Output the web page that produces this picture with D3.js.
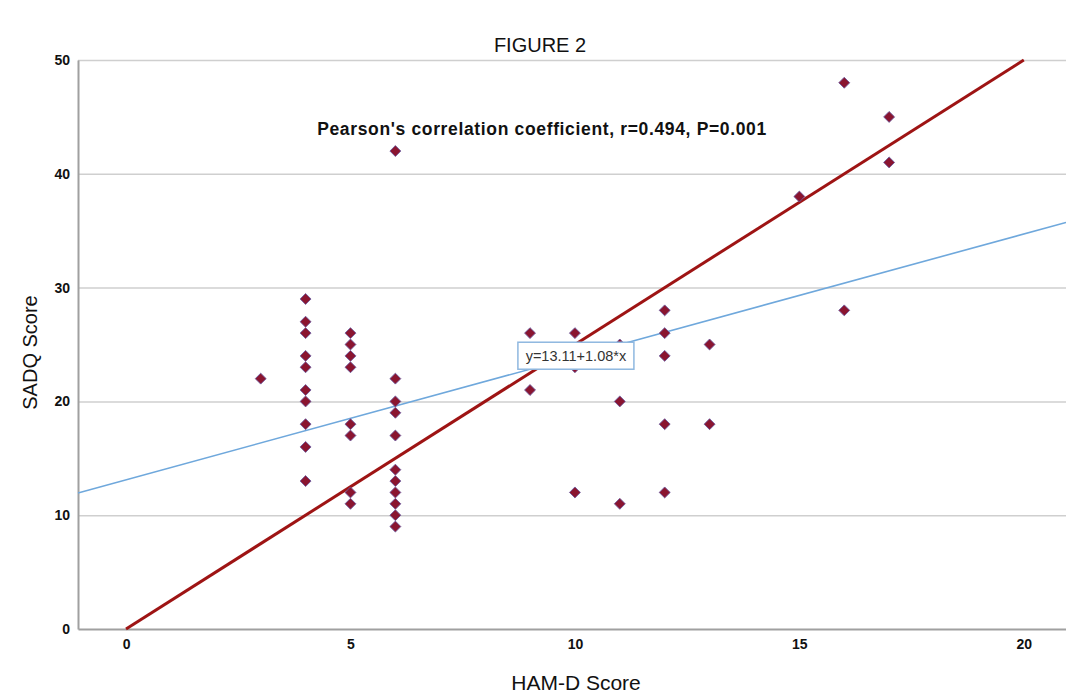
<!DOCTYPE html>
<html>
<head>
<meta charset="utf-8">
<script src="https://cdn.jsdelivr.net/npm/d3@7"></script>
<style>
  body { margin: 0; background: #fff; }
</style>
</head>
<body>
<svg></svg>
<script>
const width = 1066;
const height = 695;
const margin = { top: 60, right: 0, bottom: 66, left: 78 };

// HAM-D score (x) and SADQ score (y) for each patient
const hamd = [3,
  4, 4, 4, 4, 4, 4, 4, 4, 4, 4,
  5, 5, 5, 5, 5, 5, 5, 5,
  6, 6, 6, 6, 6, 6, 6, 6, 6, 6, 6,
  9, 9,
  10, 10, 10,
  11, 11, 11,
  12, 12, 12, 12, 12,
  13, 13,
  15,
  16, 16,
  17, 17];
const sadq = [22,
  29, 27, 26, 24, 23, 21, 20, 18, 16, 13,
  26, 25, 24, 23, 18, 17, 12, 11,
  42, 22, 20, 19, 17, 14, 13, 12, 11, 10, 9,
  26, 21,
  26, 23, 12,
  25, 20, 11,
  28, 26, 24, 18, 12,
  25, 18,
  38,
  48, 28,
  45, 41];

const xTicks = [0, 5, 10, 15, 20];
const yTicks = [0, 10, 20, 30, 40, 50];

// fit line y = 13.11 + 1.08 x, reference line from (0,0) to (20,50)
const fitIntercept = 13.11;
const fitSlope = 1.08;
const refLine = [[0, 0], [20, 50]];

const svg = d3.select("svg")
  .attr("width", width)
  .attr("height", height)
  .style("font-family", "Arial, 'Liberation Sans', sans-serif");

const x = d3.scaleLinear()
  .domain([-1.07, 20.94])
  .range([margin.left, width - margin.right]);

const y = d3.scaleLinear()
  .domain([0, 50])
  .range([height - margin.bottom, margin.top]);

// gridlines
svg.append("g")
  .attr("class", "grid")
  .attr("transform", `translate(${margin.left},0)`)
  .call(d3.axisLeft(y)
    .tickValues(yTicks.slice(1))
    .tickSize(-(width - margin.left - margin.right))
    .tickFormat(""));

svg.selectAll(".grid line")
  .attr("stroke", "#cfcfcf")
  .attr("stroke-width", 1.5);
svg.selectAll(".grid path").attr("stroke", "none");

// axes
const xAxis = svg.append("g")
  .attr("transform", `translate(0,${height - margin.bottom})`)
  .call(d3.axisBottom(x).tickValues(xTicks).tickSize(0).tickPadding(10));

const yAxis = svg.append("g")
  .attr("transform", `translate(${margin.left},0)`)
  .call(d3.axisLeft(y).tickValues(yTicks).tickSize(0).tickPadding(8));

[xAxis, yAxis].forEach(g => {
  g.select(".domain").attr("stroke", "#a0a0a0").attr("stroke-width", 2);
  g.selectAll("text")
    .attr("fill", "#111")
    .style("font-family", "Arial, 'Liberation Sans', sans-serif")
    .style("font-weight", "bold")
    .style("font-size", "14px");
});

// lines
const line = d3.line().x(d => x(d[0])).y(d => y(d[1]));

const xs = x.domain();
svg.append("path")
  .attr("d", line(xs.map(v => [v, fitIntercept + fitSlope * v])))
  .attr("fill", "none")
  .attr("stroke", "#6fa8dc")
  .attr("stroke-width", 1.6);

svg.append("path")
  .attr("d", line(refLine))
  .attr("fill", "none")
  .attr("stroke", "#9e1414")
  .attr("stroke-width", 3);

// points
const points = hamd.map((h, i) => ({ h: h, s: sadq[i] }));
svg.selectAll("path.pt")
  .data(points)
  .enter()
  .append("path")
  .attr("class", "pt")
  .attr("d", d3.symbol().type(d3.symbolSquare).size(60))
  .attr("transform", d => `translate(${x(d.h)},${y(d.s)}) rotate(45)`)
  .attr("fill", "#8a1530")
  .attr("stroke", "#6a5a9e")
  .attr("stroke-width", 0.8);

// equation label
const eq = svg.append("g")
  .attr("transform", `translate(${x(8.73)},${y(25.2)})`);

eq.append("rect")
  .attr("width", 116)
  .attr("height", 27)
  .attr("fill", "#fff")
  .attr("stroke", "#8fb8e0")
  .attr("stroke-width", 1.5);

eq.append("text")
  .attr("x", 58)
  .attr("y", 19)
  .attr("text-anchor", "middle")
  .attr("fill", "#333")
  .style("font-size", "14.5px")
  .text(`y=${fitIntercept}+${fitSlope}*x`);

// titles
svg.append("text")
  .attr("x", 540)
  .attr("y", 52)
  .attr("text-anchor", "middle")
  .attr("fill", "#111")
  .style("font-size", "20px")
  .text("FIGURE 2");

svg.append("text")
  .attr("x", 542)
  .attr("y", 135)
  .attr("text-anchor", "middle")
  .attr("fill", "#111")
  .style("font-size", "17.5px")
  .style("font-weight", "bold")
  .style("letter-spacing", "0.65px")
  .text("Pearson's correlation coefficient, r=0.494, P=0.001");

svg.append("text")
  .attr("x", 576)
  .attr("y", 690)
  .attr("text-anchor", "middle")
  .attr("fill", "#111")
  .style("font-size", "21px")
  .text("HAM-D Score");

svg.append("text")
  .attr("transform", `translate(37,${(margin.top + height - margin.bottom) / 2 + 8}) rotate(-90)`)
  .attr("text-anchor", "middle")
  .attr("fill", "#111")
  .style("font-size", "20px")
  .text("SADQ Score");
</script>
</body>
</html>
